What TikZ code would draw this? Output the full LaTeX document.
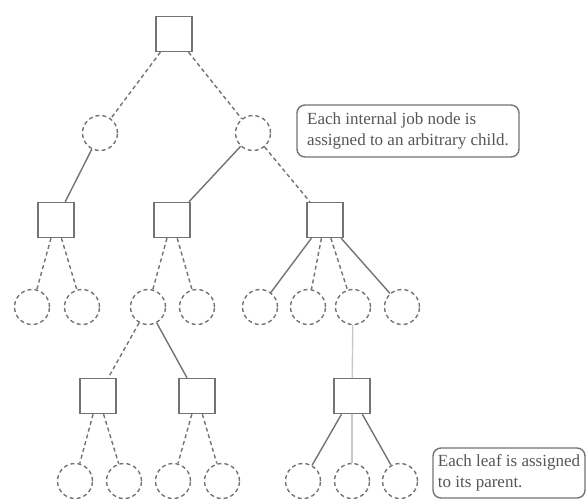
\documentclass[tikz,border=0pt]{standalone}
\usepackage{fontspec}
\setmainfont{Liberation Serif}
\definecolor{lineg}{RGB}{115,115,115}
\definecolor{liteg}{RGB}{200,200,200}
\definecolor{txtg}{RGB}{85,85,85}
\tikzset{
 sq/.style={rectangle, draw=lineg, line width=1.4pt, minimum width=36pt, minimum height=35pt, inner sep=0pt},
 cir/.style={circle, draw=lineg, line width=1.4pt, dash pattern=on 4pt off 3pt, minimum size=35pt, inner sep=0pt},
 sol/.style={draw=lineg, line width=1.4pt},
 dsh/.style={draw=lineg, line width=1.4pt, dash pattern=on 4pt off 3pt},
 lite/.style={draw=liteg, line width=1.4pt},
 note/.style={draw=lineg, line width=1.4pt, rounded corners=8pt, align=left, font=\fontsize{17}{21}\selectfont, text=txtg}
}
\begin{document}
\begin{tikzpicture}[x=1pt,y=-1pt]
\useasboundingbox (0,0) rectangle (586,501);
% nodes
\node[sq] (r) at (174,34) {};
\node[cir] (a) at (100,133) {};
\node[cir] (b) at (253,133) {};
\node[sq] (s1) at (56,220) {};
\node[sq] (s2) at (172,220) {};
\node[sq] (s3) at (325,220) {};
\node[cir] (c1) at (32,307) {};
\node[cir] (c2) at (82,307) {};
\node[cir] (c3) at (148,307) {};
\node[cir] (c4) at (197,307) {};
\node[cir] (c5) at (260,307) {};
\node[cir] (c6) at (308,307) {};
\node[cir] (c7) at (353,307) {};
\node[cir] (c8) at (402,307) {};
\node[sq] (s4) at (98,396) {};
\node[sq] (s5) at (197,396) {};
\node[sq] (s6) at (352,396) {};
\node[cir] (d1) at (75,481) {};
\node[cir] (d2) at (124,481) {};
\node[cir] (d3) at (173,481) {};
\node[cir] (d4) at (222,481) {};
\node[cir] (d5) at (303,481) {};
\node[cir] (d6) at (352,481) {};
\node[cir] (d7) at (400,481) {};
% notes
\node[note, inner sep=5pt, minimum width=222pt, minimum height=52pt] (n1) at (408,131) {Each internal job node is\\assigned to an arbitrary child.};
\node[note, inner sep=3pt, minimum width=152pt, minimum height=50pt] (n2) at (509,473) {Each leaf is assigned\\to its parent.};
% edges
\draw[dsh] (r) -- (a);
\draw[dsh] (r) -- (b);
\draw[sol] (a) -- (s1);
\draw[sol] (b) -- (s2);
\draw[dsh] (b) -- (s3);
\draw[dsh] (s1) -- (c1);
\draw[dsh] (s1) -- (c2);
\draw[dsh] (s2) -- (c3);
\draw[dsh] (s2) -- (c4);
\draw[sol] (s3) -- (c5);
\draw[dsh] (s3) -- (c6);
\draw[dsh] (s3) -- (c7);
\draw[sol] (s3) -- (c8);
\draw[dsh] (c3) -- (s4);
\draw[sol] (c3) -- (s5);
\draw[lite] (c7) -- (s6);
\draw[dsh] (s4) -- (d1);
\draw[dsh] (s4) -- (d2);
\draw[dsh] (s5) -- (d3);
\draw[dsh] (s5) -- (d4);
\draw[sol] (s6) -- (d5);
\draw[lite] (s6) -- (d6);
\draw[sol] (s6) -- (d7);
\end{tikzpicture}
\end{document}
